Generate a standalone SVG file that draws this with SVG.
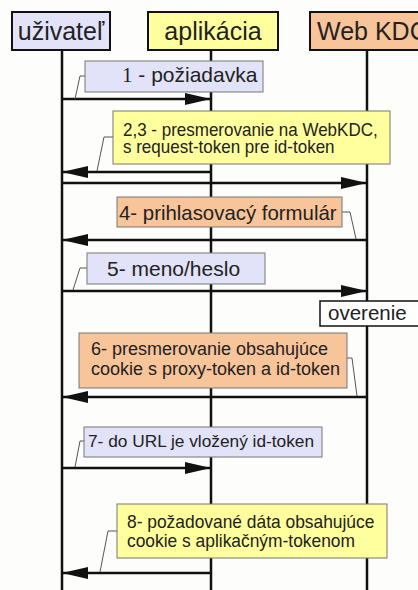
<svg xmlns="http://www.w3.org/2000/svg" width="418" height="590" viewBox="0 0 418 590">
<defs>
<style>
.hdr{stroke:#111;stroke-width:2}
.lbl{font-family:"Liberation Sans",Arial,sans-serif;fill:#222}
.life{stroke:#111;stroke-width:2.5;fill:none}
.msg{stroke:#111;stroke-width:2.5;fill:none}
.lead{stroke:#555;stroke-width:1;fill:none}
.box{stroke:#777;stroke-width:1}
.lav{fill:#e2e2f8}
.yel{fill:#ffff9e}
.org{fill:#f8c49a}
</style>
<marker id="ah" markerUnits="userSpaceOnUse" markerWidth="26" markerHeight="12" refX="26" refY="6" orient="auto">
<path d="M0,0 L26,6 L0,12 Z" fill="#111"/>
</marker>
</defs>
<rect width="418" height="590" fill="#fdfdfb"/>
<g id="lifelines">
<line class="life" x1="62" y1="50" x2="62" y2="590"/>
<line class="life" x1="211" y1="50" x2="211" y2="590"/>
<line class="life" x1="367" y1="50" x2="367" y2="590"/>
</g>
<g id="uzivatel">
<rect class="hdr lav" x="12" y="12" width="98" height="38"/>
<text class="lbl" x="61" y="40" font-size="25" text-anchor="middle">uživateľ</text>
</g>
<g id="aplikacia">
<rect class="hdr yel" x="148" y="12" width="130" height="38"/>
<text class="lbl" x="213" y="40" font-size="25" text-anchor="middle">aplikácia</text>
</g>
<g id="webkdc">
<rect class="hdr org" x="310" y="12" width="120" height="38"/>
<text class="lbl" x="317" y="40" font-size="25">Web KDC</text>
</g>
<g id="connectors">
<line class="msg" x1="62" y1="99" x2="211" y2="99" marker-end="url(#ah)"/>
<line class="msg" x1="211" y1="172" x2="62" y2="172" marker-end="url(#ah)"/>
<line class="msg" x1="62" y1="183" x2="367" y2="183" marker-end="url(#ah)"/>
<line class="msg" x1="367" y1="240" x2="62" y2="240" marker-end="url(#ah)"/>
<line class="msg" x1="62" y1="291" x2="367" y2="291" marker-end="url(#ah)"/>
<line class="msg" x1="367" y1="397" x2="62" y2="397" marker-end="url(#ah)"/>
<line class="msg" x1="62" y1="468" x2="211" y2="468" marker-end="url(#ah)"/>
<line class="msg" x1="211" y1="573" x2="62" y2="573" marker-end="url(#ah)"/>
<polyline class="lead" points="85,76 80,76 75,99"/>
<polyline class="lead" points="113,137 104,137 97,171"/>
<polyline class="lead" points="342,212 350,212 356,239"/>
<polyline class="lead" points="87,268 80,268 73,290"/>
<polyline class="lead" points="347,358 352,358 357,396"/>
<polyline class="lead" points="84,441 80,441 75,467"/>
<polyline class="lead" points="117,531 108,531 100,572"/>
</g>
<g id="m1">
<rect class="box lav" x="85" y="61" width="178" height="31"/>
<text class="lbl" x="122" y="82" font-size="21"><tspan font-family="Liberation Serif, serif">1</tspan> - požiadavka</text>
</g>
<g id="m23">
<rect class="box yel" x="113" y="111" width="277" height="53"/>
<text class="lbl" transform="translate(123,136) scale(1,1.1)" font-size="17">2,3 - presmerovanie na WebKDC,</text>
<text class="lbl" transform="translate(123,153) scale(1,1.1)" font-size="17">s request-token pre id-token</text>
</g>
<g id="m4">
<rect class="box org" x="117" y="197" width="225" height="30" stroke="#333"/>
<text class="lbl" x="119" y="220" font-size="20.4">4- prihlasovacý formulár</text>
</g>
<g id="m5">
<rect class="box lav" x="87" y="253" width="178" height="31"/>
<text class="lbl" x="107" y="276" font-size="21">5- meno/heslo</text>
</g>
<g id="overenie">
<rect x="320" y="301" width="100" height="25" fill="#fff" stroke="#111" stroke-width="1.5"/>
<text class="lbl" x="328" y="320" font-size="20.5">overenie</text>
</g>
<g id="m6">
<rect class="box org" x="79" y="333" width="268" height="55" stroke="#333"/>
<text class="lbl" transform="translate(91,355) scale(1,1.05)" font-size="18">6- presmerovanie obsahujúce</text>
<text class="lbl" transform="translate(91,375) scale(1,1.05)" font-size="18">cookie s proxy-token a id-token</text>
</g>
<g id="m7">
<rect class="box lav" x="84" y="427" width="238" height="30"/>
<text class="lbl" x="88" y="447" font-size="17.3">7- do URL je vložený id-token</text>
</g>
<g id="m8">
<rect class="box yel" x="117" y="504" width="270" height="54"/>
<text class="lbl" transform="translate(127,528) scale(1,1.07)" font-size="17.4">8- požadované dáta obsahujúce</text>
<text class="lbl" transform="translate(127,547) scale(1,1.07)" font-size="17.4">cookie s aplikačným-tokenom</text>
</g>
</svg>
